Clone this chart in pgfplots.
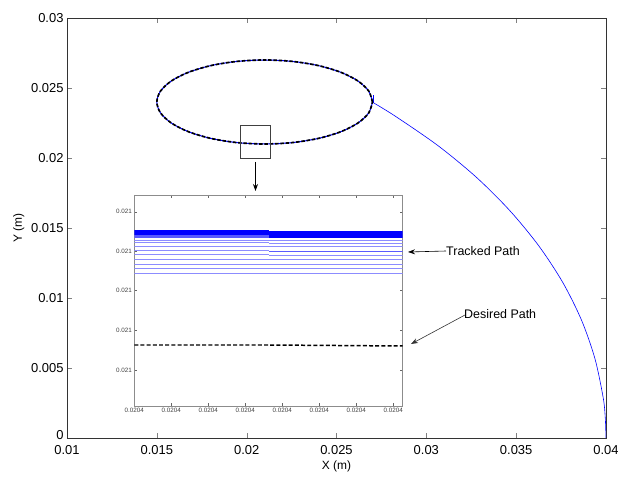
\documentclass[border=0pt]{standalone}
\usepackage{pgfplots}
\pgfplotsset{compat=1.18}
\usepackage{fontspec}
\setmainfont{Liberation Sans}
\usetikzlibrary{arrows.meta}
\definecolor{mblue}{RGB}{0,0,255}
\definecolor{lblue}{RGB}{140,140,255}
\definecolor{mdblue}{RGB}{90,90,255}
\begin{document}
\begin{tikzpicture}
\path[use as bounding box] (0,0) rectangle (618bp,477bp);
\begin{axis}[
  at={(67bp,39bp)}, anchor=south west,
  width=539bp, height=420bp, scale only axis,
  xmin=0.01, xmax=0.04, ymin=0, ymax=0.03,
  xtick={0.01,0.015,0.02,0.025,0.03,0.035,0.04},
  ytick={0,0.005,0.01,0.015,0.02,0.025,0.03},
  yticklabels={\raisebox{6bp}{0},0.005,0.01,0.015,0.02,0.025,0.03},
  scaled ticks=false,
  tick label style={font=\fontsize{13}{15}\selectfont, /pgf/number format/fixed, /pgf/number format/precision=3, /pgf/number format/assume math mode=true},
  xticklabel style={yshift=-3.5bp},
  tick align=inside, major tick length=5bp,
  axis line style={black!80, line width=0.8pt},
  xlabel={X (m)}, ylabel={Y (m)},
  label style={font=\fontsize{12}{14}\selectfont},
  xlabel style={yshift=0bp}, ylabel style={yshift=0bp},
]
% tracked path (blue): approach arc, then ellipse
\addplot[mblue, line width=0.6pt, smooth] coordinates {
 (0.04,0) (0.03996,0.00142) (0.03985,0.00283) (0.03939,0.00564) (0.03864,0.00841)
 (0.03759,0.01112) (0.03625,0.01374) (0.03464,0.01625) (0.03277,0.01864)
 (0.03064,0.02089) (0.02828,0.02298) (0.02705,0.02395)};
\addplot[mblue, line width=0.6pt] coordinates {(0.02705,0.02395) (0.02705,0.0245)};
\addplot[mblue, line width=1pt, smooth] coordinates {
 (0.027,0.024) (0.026796,0.024776) (0.026196,0.0255) (0.025243,0.026121)
 (0.024,0.026598) (0.022553,0.026898) (0.021,0.027) (0.019447,0.026898)
 (0.018,0.026598) (0.016757,0.026121) (0.015804,0.0255) (0.015204,0.024776)
 (0.015,0.024) (0.015204,0.023224) (0.015804,0.0225) (0.016757,0.021879)
 (0.018,0.021402) (0.019447,0.021102) (0.021,0.021) (0.022553,0.021102)
 (0.024,0.021402) (0.025243,0.021879) (0.026196,0.0225) (0.026796,0.023224)
 (0.027,0.024)};
% desired path (black dashed)
\addplot[black, line width=1.7pt, dash pattern=on 3.5pt off 1.8pt, smooth] coordinates {
 (0.027,0.024) (0.026796,0.024776) (0.026196,0.0255) (0.025243,0.026121)
 (0.024,0.026598) (0.022553,0.026898) (0.021,0.027) (0.019447,0.026898)
 (0.018,0.026598) (0.016757,0.026121) (0.015804,0.0255) (0.015204,0.024776)
 (0.015,0.024) (0.015204,0.023224) (0.015804,0.0225) (0.016757,0.021879)
 (0.018,0.021402) (0.019447,0.021102) (0.021,0.021) (0.022553,0.021102)
 (0.024,0.021402) (0.025243,0.021879) (0.026196,0.0225) (0.026796,0.023224)
 (0.027,0.024)};
\draw[black!75, line width=0.7pt] (axis cs:0.01965,0.01997) rectangle (axis cs:0.0213,0.02233);
\end{axis}
% zoom arrow
\draw[-{Stealth[length=7bp,width=5bp]}, line width=0.7pt] (255.5bp,315bp) -- (255.5bp,286bp);
% inset
\begin{axis}[
  at={(134.3bp,71bp)}, anchor=south west,
  width=268.4bp, height=211bp, scale only axis,
  xmin=0, xmax=268.4, ymin=0, ymax=211,
  xtick={0,37,74,111,148,185,222,259},
  xticklabels={0.0204,0.0204,0.0204,0.0204,0.0204,0.0204,0.0204,0.0204},
  ytick={36,75.7,115.7,155,194.3},
  yticklabels={0.021,0.021,0.021,0.021,0.021},
  tick label style={font=\fontsize{6.3}{7}\selectfont, black!75},
  tick align=inside, major tick length=3bp,
  axis line style={black!45, line width=0.7pt},
  tick style={black!60},
  xticklabel style={yshift=1bp}, yticklabel style={xshift=1bp},
]
% tracked path lines, left part
\addplot[mblue, line width=5bp] coordinates {(0,173.5) (135,173.5)};
\addplot[mdblue, line width=3bp] coordinates {(0,169.4) (135,169.4)};
\addplot[lblue, line width=0.8bp] coordinates {(0,166) (135,166)};
\addplot[lblue, line width=0.8bp] coordinates {(0,163.3) (135,163.3)};
\addplot[lblue, line width=0.8bp] coordinates {(0,160) (135,160)};
\addplot[lblue, line width=0.8bp] coordinates {(0,156) (135,156)};
\addplot[lblue, line width=0.8bp] coordinates {(0,151.7) (135,151.7)};
\addplot[lblue, line width=0.8bp] coordinates {(0,146.7) (135,146.7)};
\addplot[lblue, line width=0.8bp] coordinates {(0,141.7) (135,141.7)};
\addplot[lblue, line width=0.8bp] coordinates {(0,137.3) (135,137.3)};
\addplot[lblue, line width=0.8bp] coordinates {(0,132.7) (135,132.7)};
% right part
\addplot[mblue, line width=7bp] coordinates {(135,171.4) (268.4,171.4)};
\addplot[lblue, line width=0.8bp] coordinates {(135,165.3) (268.4,165.3)};
\addplot[lblue, line width=0.8bp] coordinates {(135,162.7) (268.4,162.7)};
\addplot[lblue, line width=0.8bp] coordinates {(135,159.3) (268.4,159.3)};
\addplot[mdblue, line width=0.8bp] coordinates {(135,155) (268.4,155)};
\addplot[lblue, line width=0.8bp] coordinates {(135,150.7) (268.4,150.7)};
\addplot[lblue, line width=0.8bp] coordinates {(135,146.7) (268.4,146.7)};
\addplot[lblue, line width=0.8bp] coordinates {(135,141.7) (268.4,141.7)};
\addplot[lblue, line width=0.8bp] coordinates {(135,137.3) (268.4,137.3)};
\addplot[lblue, line width=0.8bp] coordinates {(135,132.7) (268.4,132.7)};
% desired path
\addplot[black, line width=1.5pt, dash pattern=on 4pt off 2.2pt] coordinates {(0,61) (135,61) (268.4,60)};
\end{axis}
% annotations
\draw[-{Stealth[length=7bp,width=5bp]}, line width=0.6pt] (446bp,226bp) -- (408bp,225bp);
\node[anchor=west, inner sep=0pt, font=\fontsize{12.5}{14}\selectfont] at (446bp,226bp) {Tracked Path};
\draw[-{Stealth[length=7bp,width=5bp]}, line width=0.6pt, black!80] (465bp,162bp) -- (411bp,133bp);
\node[anchor=west, inner sep=0pt, font=\fontsize{12.5}{14}\selectfont] at (464bp,163bp) {Desired Path};
\end{tikzpicture}
\end{document}
